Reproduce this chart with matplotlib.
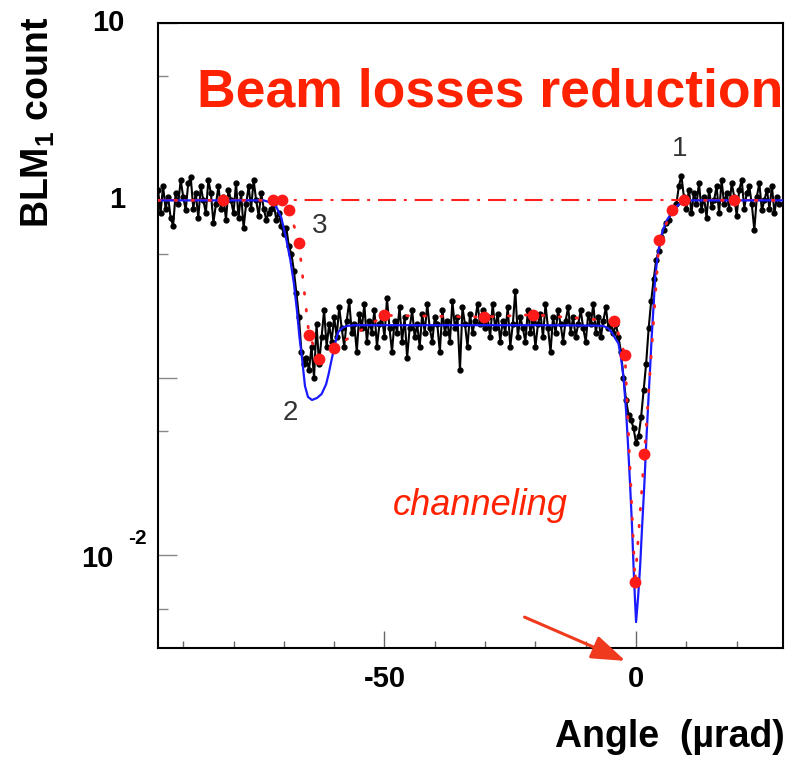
import matplotlib
matplotlib.use('Agg')
import matplotlib.pyplot as plt
import numpy as np

plt.rcParams['font.family'] = ['Liberation Sans', 'DejaVu Sans']
plt.rcParams['axes.unicode_minus'] = False
plt.rcParams['mathtext.fontset'] = 'custom'
plt.rcParams['mathtext.rm'] = 'Liberation Sans'
plt.rcParams['mathtext.bf'] = 'Liberation Sans:bold'
plt.rcParams['mathtext.default'] = 'bf'

# measured BLM1 counts, scan step 0.5 urad starting at -95 urad
data_start = -95.0
data_step = 0.5
blm_left = [1.15, 0.85, 1.2, 0.9, 1.05, 0.8, 0.72, 1.1, 0.95, 1.3, 1.05, 0.88, 1.25, 1.35, 0.9,
            1.1, 0.8, 1.2, 1.0, 0.85, 1.3, 1.1, 0.75, 0.95, 1.2, 0.9, 1.05, 0.78, 1.15, 1.0,
            0.85, 1.25, 0.8, 1.1, 0.7, 0.95, 1.2, 0.9, 1.3, 1.0, 0.82, 1.1, 0.9, 0.78, 0.85]
blm_vr = [0.9, 0.95, 0.78, 0.85, 0.72, 0.65, 0.7, 0.55, 0.5, 0.4, 0.3, 0.22, 0.14, 0.12, 0.13,
          0.11, 0.15, 0.1, 0.2, 0.12, 0.17, 0.24, 0.15, 0.2, 0.16]
blm_plateau = [0.22, 0.17, 0.25, 0.19, 0.15, 0.21, 0.27, 0.18, 0.2, 0.14, 0.23, 0.19, 0.26, 0.16,
               0.21, 0.18, 0.24, 0.15, 0.2, 0.22, 0.17, 0.28, 0.19, 0.14, 0.21, 0.18, 0.25, 0.16,
               0.22, 0.13, 0.19, 0.24, 0.17, 0.2, 0.15, 0.23, 0.18, 0.26, 0.19, 0.16, 0.22, 0.2,
               0.14, 0.24, 0.18, 0.21, 0.16, 0.27, 0.19, 0.22, 0.11, 0.25, 0.2, 0.15, 0.23, 0.18,
               0.21, 0.26, 0.2, 0.24, 0.19, 0.22, 0.17, 0.26, 0.19, 0.23, 0.16, 0.21, 0.18, 0.25,
               0.15, 0.2, 0.31, 0.17, 0.22, 0.19, 0.16, 0.24, 0.18, 0.21, 0.15, 0.2, 0.23, 0.17,
               0.26, 0.19, 0.14, 0.22, 0.18, 0.24, 0.2, 0.16, 0.21, 0.25, 0.18, 0.22, 0.17, 0.2,
               0.24, 0.19, 0.16, 0.23, 0.2, 0.26, 0.18, 0.22, 0.17, 0.21, 0.25, 0.19, 0.2, 0.18]
blm_ch = [0.2, 0.17, 0.14, 0.1, 0.075, 0.062, 0.058, 0.052, 0.043, 0.047, 0.06, 0.085, 0.12,
          0.19, 0.27, 0.36, 0.46, 0.52, 0.62, 0.68, 0.75, 0.78, 0.86, 0.9, 0.95]
blm_right = [1.2, 1.38, 1.05, 0.9, 1.15, 0.85, 1.1, 0.95, 1.25, 0.88, 1.05, 0.8, 1.15, 0.92, 1.0,
             1.2, 0.85, 1.3, 0.95, 1.1, 0.9, 1.25, 1.05, 0.82, 1.15, 1.3, 0.9, 1.1, 1.2, 0.95,
             0.68, 1.05, 1.25, 0.88, 1.0, 1.15, 0.9, 1.2, 0.85, 1.05, 0.95]
blm = blm_left + blm_vr + blm_plateau + blm_ch + blm_right
angle = data_start + data_step * np.arange(len(blm))

# simulation (blue line)
fit_x = [-95, -74, -72.5, -71.5, -70.5, -69.5, -68.7, -68, -67.4, -66.9, -66.4, -65.8, -65.2,
         -64.4, -63.4, -62.5, -61.6, -61.1, -60.6, -60.1, -59.6, -59.2, -58.4, -57.5, -56, -50,
         -20, -8, -6.5, -5.5, -4.8, -4.2, -3.5, -3, -2.5, -2, -1.6, -1.2, -0.8, -0.5, -0.2, 0,
         0.4, 0.8, 1.2, 1.65, 2.05, 2.45, 2.8, 3.1, 3.5, 3.8, 4.3, 4.8, 5.4, 6.1, 6.8, 7.4, 8.3,
         9.4, 10.5, 29]
fit_y = [1.0, 1.0, 0.97, 0.92, 0.8, 0.6, 0.46, 0.34, 0.24, 0.17, 0.13, 0.09, 0.078, 0.075, 0.077,
         0.081, 0.092, 0.105, 0.123, 0.143, 0.165, 0.181, 0.191, 0.196, 0.198, 0.198, 0.198,
         0.197, 0.196, 0.19, 0.18, 0.168, 0.156, 0.13, 0.101, 0.066, 0.042, 0.0253, 0.0145,
         0.0086, 0.0055, 0.0042, 0.0058, 0.0086, 0.0145, 0.0253, 0.045, 0.075, 0.115, 0.17, 0.26,
         0.37, 0.49, 0.6, 0.69, 0.77, 0.83, 0.88, 0.94, 0.98, 1.0, 1.0]

# second model (red points)
pt_x = [-82, -72.1, -70.4, -68.9, -67.0, -65.0, -63.0, -60.1, -50.0, -30.3, -20.4, -4.3, -2.2,
        -0.2, 1.65, 4.6, 7.2, 9.6, 19.5]
pt_y = [1.0, 1.0, 1.0, 0.886, 0.578, 0.175, 0.128, 0.148, 0.225, 0.22, 0.227, 0.209, 0.134,
        0.0071, 0.037, 0.60, 0.88, 1.0, 1.0]

red = '#ff2200'

fig = plt.figure(figsize=(7.89, 7.58), dpi=100)
ax = fig.add_axes([0.2003, 0.1451, 0.7921, 0.8246])

ax.axhline(1.0, color='#ff2020', lw=1.5, ls=(0, (8.6, 3.8, 1.4, 3.8)), zorder=2)
ax.plot(angle, blm, color='black', lw=1.5, marker='o', ms=3.5, zorder=1)
ax.plot(fit_x, fit_y, color='#1a1aff', lw=1.6, zorder=3)
ax.plot([-95] + pt_x + [29], [1.0] + pt_y + [1.0], color='#ff2020', lw=2,
        ls=(0, (0.6, 5.5)), dash_capstyle='round', zorder=4)
ax.plot(pt_x, pt_y, 'o', color='#ff1a1a', ms=8.5, mec='none', zorder=5)

ax.set_yscale('log')
ax.set_xlim(-95, 29.2)
ax.set_ylim(0.003, 10)

ax.set_yticks([0.01, 0.1, 1, 10])
ax.set_yticks([0.005, 0.05, 0.5, 5], minor=True)
ax.set_yticklabels([])
ax.set_yticklabels([], minor=True)
ax.set_xticks([-50, 0])
ax.set_xticklabels(['-50', '0'], fontsize=21, fontweight='bold')
ax.set_xticks([-90, -80, -70, -60, -40, -30, -20, -10, 10, 20], minor=True)
ax.tick_params(axis='x', which='major', direction='in', length=12, width=1, color='#666666', pad=12)
ax.tick_params(axis='x', which='minor', direction='in', length=5, width=1, color='#666666')
ax.tick_params(axis='y', which='major', direction='in', length=14, width=1, color='#888888')
ax.tick_params(axis='y', which='minor', direction='in', length=7, width=1, color='#888888')
for s in ax.spines.values():
    s.set_linewidth(1.5)

# y tick labels drawn ROOT style
ytr = ax.get_yaxis_transform()
ax.text(-0.053, 10, '10', transform=ytr, ha='right', va='center', fontsize=21, fontweight='bold')
ax.text(-0.053, 1, '1', transform=ytr, ha='right', va='center', fontsize=21, fontweight='bold')
ax.text(-0.072, 0.0095, '10', transform=ytr, ha='right', va='center', fontsize=21, fontweight='bold')
ax.text(-0.018, 0.0125, '-2', transform=ytr, ha='right', va='center', fontsize=15, fontweight='bold')

fig.text(0.048, 0.839, 'BLM$_1$ count', rotation=90, ha='center', va='center',
         fontsize=27, fontweight='bold')
fig.text(0.995, 0.0145, 'Angle  (\u00b5rad)', ha='right', va='baseline', fontsize=27, fontweight='bold')

ax.text(0.0624, 0.8656, 'Beam losses reduction', transform=ax.transAxes, ha='left',
        va='baseline', fontsize=38.5, fontweight='bold', color=red)
ax.text(0.376, 0.2128, 'channeling', transform=ax.transAxes, ha='left', va='baseline',
        fontsize=26, style='italic', color=red)

ax.text(8.74, 1.94, '1', ha='center', va='center', fontsize=20, color='#333333')
ax.text(-68.75, 0.063, '2', ha='center', va='center', fontsize=20, color='#333333')
ax.text(-62.8, 0.714, '3', ha='center', va='center', fontsize=20, color='#333333')

ax.annotate('', xy=(628 / 789, 1 - 662 / 758), xytext=(522 / 789, 1 - 616 / 758),
            xycoords='figure fraction', textcoords='figure fraction', annotation_clip=False,
            arrowprops=dict(arrowstyle='-|>,head_length=0.8,head_width=0.28', color='#f03a1e',
                            lw=2.2, mutation_scale=26))

fig.savefig('out.png', dpi=100)
